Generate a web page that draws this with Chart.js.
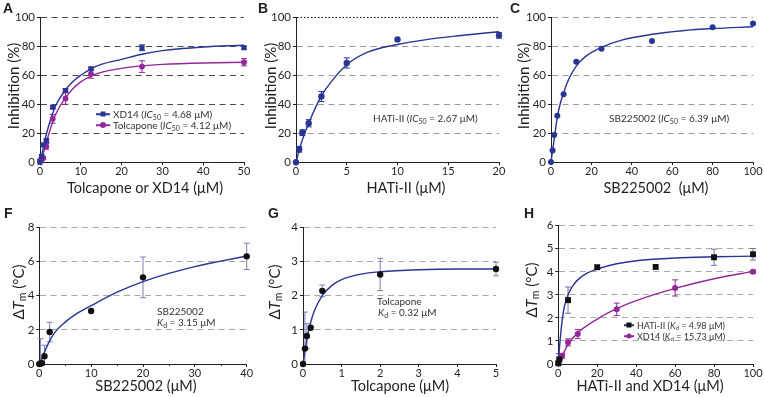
<!DOCTYPE html>
<html><head><meta charset="utf-8">
<script src="https://cdn.jsdelivr.net/npm/chart.js@4.4.1/dist/chart.umd.min.js"></script>
<style>
body{margin:0;width:764px;height:397px;position:relative;background:#fff;overflow:hidden;font-family:Lato,"Open Sans",sans-serif;color:#231f20}
canvas{position:absolute}
.c{position:absolute;white-space:nowrap;line-height:1;transform:translate(-50%,-50%)}
.r{position:absolute;white-space:nowrap;line-height:1;transform:translate(-50%,-50%) rotate(-90deg)}
.l{position:absolute;white-space:nowrap;line-height:1;transform:translate(0,-50%)}
.lt{position:absolute;font:bold 14px "Liberation Sans",Arial,sans-serif;line-height:1}
sub{font-size:70%;vertical-align:-0.25em;line-height:0}
.ax{font-size:14.5px}
.an{font-size:10px;color:#333}
.sw{position:absolute;height:1.5px;transform:translate(0,-50%)}
.mk{position:absolute;transform:translate(-50%,-50%)}
</style></head><body>
<canvas id="cA"></canvas><canvas id="cB"></canvas><canvas id="cC"></canvas>
<canvas id="cF"></canvas><canvas id="cG"></canvas><canvas id="cH"></canvas>

<div class="lt" style="left:3px;top:1px">A</div>
<div class="lt" style="left:258px;top:1px">B</div>
<div class="lt" style="left:510px;top:1px">C</div>
<div class="lt" style="left:4px;top:206px">F</div>
<div class="lt" style="left:268px;top:206px">G</div>
<div class="lt" style="left:524px;top:206px">H</div>

<div class="r ax" style="left:13px;top:86px;font-size:15px">Inhibition (%)</div>
<div class="r ax" style="left:270px;top:86px;font-size:15px">Inhibition (%)</div>
<div class="r ax" style="left:523px;top:86px;font-size:15px">Inhibition (%)</div>
<div class="c ax" style="left:145px;top:188px">Tolcapone or XD14 (μM)</div>
<div class="c ax" style="left:406px;top:188px">HATi-II (μM)</div>
<div class="c ax" style="left:656px;top:188px">SB225002&nbsp; (μM)</div>

<div class="r ax" style="left:18px;top:292px;font-size:15px">Δ<i>T</i><sub>m</sub> (°C)</div>
<div class="r ax" style="left:274px;top:292px;font-size:15px">Δ<i>T</i><sub>m</sub> (°C)</div>
<div class="r ax" style="left:531px;top:290px;font-size:15px">Δ<i>T</i><sub>m</sub> (°C)</div>
<div class="c ax" style="left:146px;top:386px">SB225002 (μM)</div>
<div class="c ax" style="left:400px;top:386px">Tolcapone (μM)</div>
<div class="c ax" style="left:650px;top:386px">HATi-II and XD14 (μM)</div>

<!-- legend A -->
<div class="sw" style="left:96px;top:114px;width:14px;background:#283593"></div>
<div class="mk" style="left:103px;top:114px;width:5px;height:5px;background:#283593"></div>
<div class="l an" style="left:113px;top:114px">XD14 (<i>IC</i><sub>50</sub> = 4.68 μM)</div>
<div class="sw" style="left:96px;top:125px;width:14px;background:#93279a"></div>
<div class="mk" style="left:103px;top:125px;width:6px;height:6px;border-radius:50%;background:#93279a"></div>
<div class="l an" style="left:113px;top:125px">Tolcapone (<i>IC</i><sub>50</sub> = 4.12 μM)</div>

<div class="l an" style="left:373px;top:118px">HATi-II (<i>IC</i><sub>50</sub> = 2.67 μM)</div>
<div class="l an" style="left:609px;top:118px">SB225002 (<i>IC</i><sub>50</sub> = 6.39 μM)</div>

<div class="l an" style="left:157px;top:311px">SB225002</div>
<div class="l an" style="left:157px;top:322px"><i>K</i><sub>d</sub> = 3.15 μM</div>
<div class="l an" style="left:377px;top:301px">Tolcapone</div>
<div class="l an" style="left:378px;top:312px"><i>K</i><sub>d</sub> = 0.32 μM</div>

<!-- legend H -->
<div class="sw" style="left:624px;top:325px;width:10px;background:#283593"></div>
<div class="mk" style="left:629px;top:325px;width:5px;height:5px;background:#111"></div>
<div class="l an" style="left:637px;top:325px;font-size:9px">HATi-II (<i>K</i><sub>d</sub> = 4.98 μM)</div>
<div class="sw" style="left:624px;top:336px;width:10px;background:#93279a"></div>
<div class="mk" style="left:629px;top:336px;width:5px;height:5px;border-radius:50%;background:#93279a"></div>
<div class="l an" style="left:637px;top:336px;font-size:9px">XD14 (<i>K</i><sub>d</sub> = 15.73 μM)</div>

<script>
// ---------- DATA ----------
// Panel A: inhibition vs Tolcapone / XD14
const A_conc = [0, 0.39, 0.78, 1.56, 3.125, 6.25, 12.5, 25, 50];
const A_xd14 = [0, 4, 12, 15, 38, 49.5, 64.5, 79, 79];
const A_xd14_err = [0, 1, 1, 1, 1, 1, 1, 2, 1];
const A_tol = [1, 2, 3, 11, 30, 44, 61, 66, 69];
const A_tol_err = [1, 1, 1, 2, 3, 4, 3, 4, 2.5];
const A_fit_x = [0, 0.5, 1, 2, 3, 4, 6, 8, 10, 12.5, 15, 20, 25, 30, 40, 50];
const A_fit_xd14 = [0, 6, 13, 24, 33, 40, 49, 55.5, 60, 64.5, 67.5, 71, 74.5, 77, 79.5, 80.7];
const A_fit_tol = [0, 3, 8, 18, 27, 34, 43.5, 50.5, 55.5, 59.5, 62, 64.8, 66.5, 67.5, 68.5, 69];

// Panel B: HATi-II
const B_conc = [0, 0.3125, 0.625, 1.25, 2.5, 5, 10, 20];
const B_inh = [0, 9, 20.5, 27, 45.5, 68.7, 85, 87.8];
const B_err = [0, 2, 2, 2.5, 3.5, 3.5, 0, 2];
const B_fit_x = [0, 0.3, 0.6, 1.25, 2, 2.5, 3.5, 5, 7, 10, 13, 16, 20];
const B_fit_y = [0, 8, 15, 27, 39, 46, 56, 67.5, 76, 81.5, 85, 87.5, 90.3];

// Panel C: SB225002
const C_conc = [0, 0.78, 1.56, 3.125, 6.25, 12.5, 25, 50, 80, 100];
const C_inh = [0, 8, 18.7, 32, 47, 69.5, 78.5, 83.8, 93.3, 95.9];
const C_fit_x = [0, 0.8, 1.6, 3.1, 4.5, 6.25, 9, 12.5, 17, 25, 35, 50, 65, 80, 100];
const C_fit_y = [0, 8, 16, 31, 40, 48, 58, 66.5, 73, 79.5, 84.5, 88.5, 91, 92.5, 93.7];

// Panel F: dTm vs SB225002
const F_conc = [0, 0.25, 0.5, 1, 2, 10, 20, 40];
const F_dtm = [0, 0.03, 0.05, 0.45, 1.87, 3.1, 5.07, 6.3];
const F_err = [0, 1.45, 0, 0.65, 0.57, 0, 1.19, 0.77];
const F_fit_x = [0, 0.5, 1, 2, 3, 5, 7, 10, 15, 20, 25, 30, 35, 40];
const F_fit_y = [0, 0.3, 0.7, 1.35, 1.85, 2.45, 2.9, 3.41, 4.2, 4.82, 5.3, 5.7, 6.02, 6.32];

// Panel G: dTm vs Tolcapone
const G_conc = [0, 0.05, 0.1, 0.2, 0.5, 2, 5];
const G_dtm = [0, 0.45, 0.82, 1.06, 2.14, 2.62, 2.78];
const G_err = [0, 1.07, 0.36, 0, 0.17, 0.47, 0.2];
const G_fit_x = [0, 0.05, 0.1, 0.2, 0.3, 0.5, 0.75, 1, 1.5, 2, 3, 4, 5];
const G_fit_y = [0, 0.38, 0.72, 1.22, 1.57, 2.0, 2.3, 2.47, 2.63, 2.7, 2.76, 2.78, 2.78];

// Panel H: dTm vs HATi-II and XD14
const H_hati_conc = [0, 0.5, 5, 20, 50, 80, 100];
const H_hati = [0.03, 0.2, 2.77, 4.2, 4.21, 4.63, 4.76];
const H_hati_err = [0, 0.25, 0.57, 0, 0, 0.35, 0.25];
const H_xd14_conc = [0, 0.5, 1, 2, 5, 10, 30, 60, 100];
const H_xd14 = [0.05, 0.15, 0.25, 0.36, 0.94, 1.3, 2.37, 3.3, 4.0];
const H_xd14_err = [0, 0.3, 0, 0.1, 0.15, 0.2, 0.27, 0.35, 0.07];
const H_fit_hati_x = [0, 0.5, 1, 2, 3, 5, 7.5, 10, 15, 20, 30, 40, 60, 80, 100];
const H_fit_hati_y = [0, 0.6, 1.1, 1.9, 2.45, 3.0, 3.4, 3.65, 3.95, 4.12, 4.35, 4.48, 4.6, 4.65, 4.68];
const H_fit_xd14_x = [0, 1, 2, 5, 10, 20, 30, 40, 60, 80, 100];
const H_fit_xd14_y = [0, 0.18, 0.35, 0.85, 1.35, 1.95, 2.4, 2.75, 3.28, 3.7, 4.02];

// ---------- STYLE ----------
const NAVY = '#283593', PURPLE = '#93279a', INK = '#231f20';
Chart.defaults.font.family = 'Lato';

const pts = (xs, ys) => xs.map((x, i) => ({x, y: ys[i]}));

const errPlugin = {
  id: 'errbars',
  beforeDatasetsDraw(chart) {
    const {ctx, chartArea} = chart;
    const xs = chart.scales.x, ys = chart.scales.y;
    chart.data.datasets.forEach(ds => {
      if (!ds.err) return;
      ctx.save();
      ctx.strokeStyle = ds.errColor || ds.backgroundColor;
      ctx.lineWidth = 1;
      ds.data.forEach((p, j) => {
        const e = ds.err[j];
        if (!e) return;
        const px = xs.getPixelForValue(p.x);
        const yt = ys.getPixelForValue(p.y + e);
        const ybr = ys.getPixelForValue(p.y - e);
        const yb = Math.min(ybr, chartArea.bottom);
        ctx.beginPath();
        ctx.moveTo(px, yt); ctx.lineTo(px, yb);
        ctx.moveTo(px - 3, yt); ctx.lineTo(px + 3, yt);
        if (ybr <= chartArea.bottom) { ctx.moveTo(px - 3, yb); ctx.lineTo(px + 3, yb); }
        ctx.stroke();
      });
      ctx.restore();
    });
  }
};
const minorPlugin = {
  id: 'minor',
  afterDraw(chart, args, opts) {
    if (!opts || !opts.x) return;
    const {ctx, chartArea} = chart;
    const xs = chart.scales.x;
    ctx.save(); ctx.strokeStyle = INK; ctx.lineWidth = 1;
    opts.x.forEach(v => {
      const px = Math.round(xs.getPixelForValue(v)) + 0.5;
      ctx.beginPath(); ctx.moveTo(px, chartArea.bottom); ctx.lineTo(px, chartArea.bottom + 2); ctx.stroke();
    });
    ctx.restore();
  }
};
Chart.register(errPlugin, minorPlugin);

function makeChart(id, rect, area, xo, yo, datasets, extra) {
  const c = document.getElementById(id);
  c.style.left = rect.x + 'px'; c.style.top = rect.y + 'px';
  c.width = rect.w; c.height = rect.h;
  c.style.width = rect.w + 'px'; c.style.height = rect.h + 'px';
  const yW = area.l - rect.x, padTop = area.t - rect.y, padRight = rect.x + rect.w - area.r, xH = rect.y + rect.h - area.b;
  return new Chart(c, {
    type: 'scatter',
    data: {datasets},
    options: {
      responsive: false, animation: false, devicePixelRatio: 1,
      layout: {padding: {left: 0, top: padTop, right: padRight, bottom: 0}},
      plugins: {legend: {display: false}, tooltip: {enabled: false}, minor: extra || {}},
      scales: {
        x: {
          type: 'linear', min: xo.min, max: xo.max,
          ticks: {stepSize: xo.step, font: {size: 11}, color: INK, padding: 0, maxRotation: 0, autoSkip: false},
          grid: {drawOnChartArea: false, drawTicks: true, tickLength: 3, tickColor: INK, tickWidth: 1},
          border: {color: INK, width: 1},
          afterFit: s => { s.height = xH; }
        },
        y: {
          type: 'linear', min: yo.min, max: yo.max,
          ticks: {stepSize: yo.step, font: {size: 11.5}, color: INK, padding: 2, autoSkip: false},
          grid: {
            color: ctx => ctx.tick && ctx.tick.value === yo.min ? 'rgba(0,0,0,0)' :
              (yo.topDotted && ctx.tick && ctx.tick.value === yo.max ? '#111' : yo.grid),
            lineWidth: 1, drawTicks: true, tickLength: 3, tickColor: INK, tickWidth: 1, tickBorderDash: []
          },
          border: {color: INK, width: 1,
            dash: ctx => (yo.topDotted && ctx.tick && ctx.tick.value === yo.max) ? [1.5, 2] : [6, 4.5]},
          afterFit: s => { s.width = yW; }
        }
      }
    }
  });
}

function ptsDs(xs, ys, color, style, r, err, errColor) {
  return {data: pts(xs, ys), backgroundColor: color, borderColor: color, pointStyle: style,
    pointRadius: r, pointBorderWidth: 0, showLine: false, clip: false, err: err, errColor: errColor};
}
function fitDs(xs, ys, color) {
  return {data: pts(xs, ys), borderColor: color, backgroundColor: color, borderWidth: 1.4,
    pointRadius: 0, showLine: true, tension: 0.4, cubicInterpolationMode: 'monotone', clip: false};
}

makeChart('cA', {x: 0, y: 0, w: 255, h: 198}, {l: 40, t: 17.3, r: 244, b: 162.3},
  {min: 0, max: 50, step: 10}, {min: 0, max: 100, step: 20, grid: '#4a4a4a'},
  [ptsDs(A_conc, A_xd14, NAVY, 'rect', 3.6, A_xd14_err, NAVY),
   ptsDs(A_conc, A_tol, PURPLE, 'circle', 2.9, A_tol_err, PURPLE),
   fitDs(A_fit_x, A_fit_xd14, NAVY),
   fitDs(A_fit_x, A_fit_tol, PURPLE)]);

makeChart('cB', {x: 255, y: 0, w: 253, h: 198}, {l: 296, t: 17.7, r: 499, b: 162.3},
  {min: 0, max: 20, step: 5}, {min: 0, max: 100, step: 20, grid: '#9a9a9a', topDotted: true},
  [ptsDs(B_conc, B_inh, NAVY, 'circle', 3.2, B_err, NAVY),
   fitDs(B_fit_x, B_fit_y, NAVY)]);

makeChart('cC', {x: 508, y: 0, w: 256, h: 198}, {l: 551, t: 17.7, r: 753, b: 162},
  {min: 0, max: 100, step: 20}, {min: 0, max: 100, step: 20, grid: '#9a9a9a'},
  [ptsDs(C_conc, C_inh, NAVY, 'circle', 3, null),
   fitDs(C_fit_x, C_fit_y, NAVY)]);

makeChart('cF', {x: 0, y: 198, w: 255, h: 199}, {l: 39.3, t: 227.3, r: 246.7, b: 364},
  {min: 0, max: 40, step: 10}, {min: 0, max: 8, step: 2, grid: '#a8a8a8'},
  [ptsDs(F_conc, F_dtm, '#111', 'circle', 3.2, F_err, '#7a7eb4'),
   fitDs(F_fit_x, F_fit_y, NAVY)], {x: [5, 15, 25, 35]});

makeChart('cG', {x: 255, y: 198, w: 253, h: 199}, {l: 303, t: 227.3, r: 496, b: 364},
  {min: 0, max: 5, step: 1}, {min: 0, max: 4, step: 1, grid: '#a8a8a8'},
  [ptsDs(G_conc, G_dtm, '#111', 'circle', 3.2, G_err, '#7a7eb4'),
   fitDs(G_fit_x, G_fit_y, NAVY)]);

makeChart('cH', {x: 508, y: 198, w: 256, h: 199}, {l: 558.3, t: 225.7, r: 753, b: 364},
  {min: 0, max: 100, step: 20}, {min: 0, max: 6, step: 1, grid: '#a8a8a8'},
  [ptsDs(H_hati_conc, H_hati, '#111', 'rect', 4.2, H_hati_err, '#6f73aa'),
   ptsDs(H_xd14_conc, H_xd14, PURPLE, 'circle', 3, H_xd14_err, PURPLE),
   fitDs(H_fit_hati_x, H_fit_hati_y, NAVY),
   fitDs(H_fit_xd14_x, H_fit_xd14_y, PURPLE)]);
</script>
</body></html>
